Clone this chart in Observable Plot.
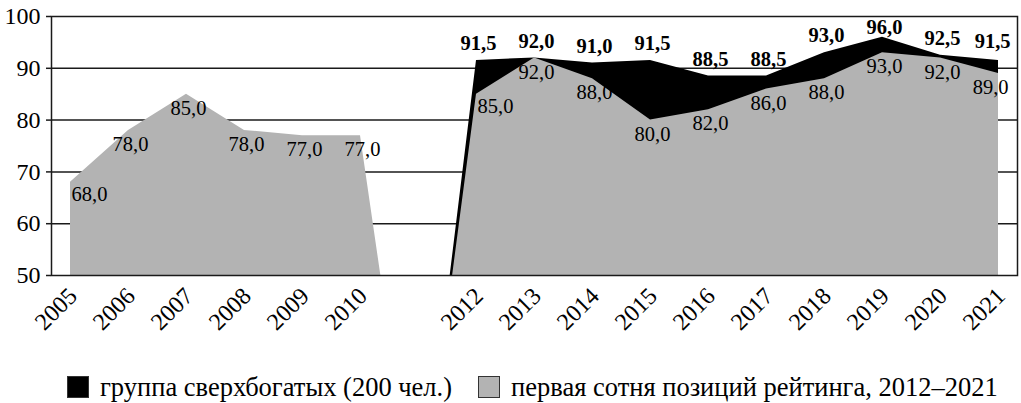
<!DOCTYPE html>
<html><head><meta charset="utf-8">
<script src="https://cdn.jsdelivr.net/npm/d3@7"></script>
<script src="https://cdn.jsdelivr.net/npm/@observablehq/plot@0.6"></script>
<style>
body{margin:0;background:#fff;}
#wrap{position:relative;width:1021px;height:403px;font-family:"Liberation Serif","Times New Roman",Times,serif;}
#legend{position:absolute;left:67px;top:376px;display:flex;align-items:center;font-size:26.5px;line-height:22px;white-space:nowrap;color:#000;}
.sw{width:20px;height:20px;border:1px solid #333;display:inline-block;margin-right:11px;}
.item{display:flex;align-items:center;margin-right:26px;}
</style></head>
<body><div id="wrap"><div id="chart"></div><div id="legend"></div></div>
<script>
const years = [2005,2006,2007,2008,2009,2010,2011,2012,2013,2014,2015,2016,2017,2018,2019,2020,2021];
const xTickLabels = ["2005","2006","2007","2008","2009","2010","2012","2013","2014","2015","2016","2017","2018","2019","2020","2021"];
const superRich = [0,0,0,0,0,0,0,91.5,92.0,91.0,91.5,88.5,88.5,93.0,96.0,92.5,91.5];
const top100 = [68.0,78.0,85.0,78.0,77.0,77.0,0,85.0,92.0,88.0,80.0,82.0,86.0,88.0,93.0,92.0,89.0];
const yTicks = [50,60,70,80,90,100];
const gridLines = [60,70,80,90];
const seriesNames = ["группа сверхбогатых (200 чел.)","первая сотня позиций рейтинга, 2012–2021"];
const seriesColors = ["#000000","#b3b3b3"];

const FONT = "'Liberation Serif', 'Times New Roman', Times, serif";
const rows = years.map((y,i)=>({year:y, rich:superRich[i], base:top100[i]}));
const fmt = v => d3.format(".1f")(v).replace(".", ",");
const firstYear = years[0], lastYear = years[years.length-1];
const firstRich = years[superRich.findIndex(v=>v>0)];
const maxRich = d3.max(superRich);
const edge = d => d.year===firstYear || d.year===lastYear || d.year===firstRich;

const lbl = {fontSize:20.5, fontFamily:FONT, fill:"#000"};
const chart = Plot.plot({
  width:1021, height:360,
  marginLeft:51, marginRight:4, marginTop:16, marginBottom:85,
  style:{fontFamily:FONT, fontSize:"24px", color:"#000", background:"#fff"},
  x:{type:"point", domain:years, padding:0.283, axis:null},
  y:{domain:[50,100], axis:null},
  marks:[
    Plot.ruleY(gridLines, {stroke:"#1a1a1a", strokeWidth:1.5}),
    Plot.areaY(rows, {x:"year", y:"rich", fill:seriesColors[0], clip:true}),
    Plot.areaY(rows, {x:"year", y:"base", fill:seriesColors[1], clip:true}),
    Plot.frame({stroke:"#1a1a1a", strokeWidth:1.5}),
    Plot.axisY({ticks:yTicks, tickSize:5, tickPadding:6, fontSize:24, fontFamily:FONT, tickFormat:d=>String(d), stroke:"#1a1a1a", strokeWidth:1.5}),
    Plot.text(xTickLabels, {x:d=>+d, frameAnchor:"bottom", text:d=>d, rotate:-45, textAnchor:"end", lineAnchor:"bottom", dx:8, dy:22, fontSize:24, fontFamily:FONT, fill:"#000"}),
    // lower series labels
    Plot.text(rows.filter(d=>d.base>0 && !edge(d)), {x:"year", y:"base", text:d=>fmt(d.base), dx:2, dy:14, ...lbl}),
    Plot.text(rows.filter(d=>d.base>0 && (d.year===firstYear || d.year===firstRich)), {x:"year", y:"base", text:d=>fmt(d.base), textAnchor:"start", dx:1, dy:12, ...lbl}),
    Plot.text(rows.filter(d=>d.year===lastYear), {x:"year", y:"base", text:d=>fmt(d.base), textAnchor:"end", dx:10, dy:14, ...lbl}),
    // upper series labels
    Plot.text(rows.filter(d=>d.rich>0 && d.year!==lastYear && d.rich!==maxRich), {x:"year", y:"rich", text:d=>fmt(d.rich), dx:2, dy:-17, fontWeight:"bold", ...lbl}),
    Plot.text(rows.filter(d=>d.rich===maxRich), {x:"year", y:"rich", text:d=>fmt(d.rich), dx:2, dy:-10, fontWeight:"bold", ...lbl}),
    Plot.text(rows.filter(d=>d.year===lastYear), {x:"year", y:"rich", text:d=>fmt(d.rich), textAnchor:"end", dx:12, dy:-19, fontWeight:"bold", ...lbl})
  ]
});
document.getElementById("chart").appendChild(chart);

const legend = document.getElementById("legend");
seriesNames.forEach((name,i)=>{
  const item = document.createElement("div");
  item.className = "item";
  const sw = document.createElement("span");
  sw.className = "sw";
  sw.style.background = seriesColors[i];
  const t = document.createElement("span");
  t.textContent = name;
  item.appendChild(sw); item.appendChild(t);
  legend.appendChild(item);
});
</script>
</body></html>
